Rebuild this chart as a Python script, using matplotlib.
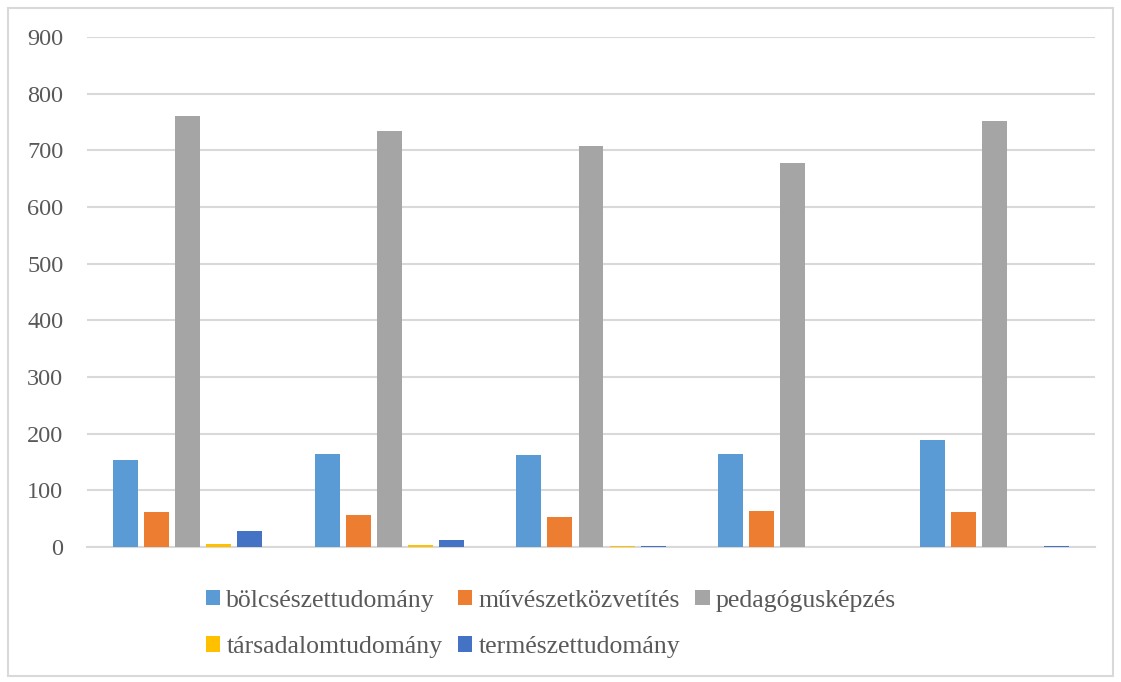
import matplotlib
matplotlib.use("Agg")
import matplotlib.pyplot as plt
import numpy as np
from matplotlib.patches import Rectangle

# Data (x-axis has no category labels)
categories = ["", "", "", "", ""]
series_names = ["bölcsészettudomány", "művészetközvetítés", "pedagógusképzés",
                "társadalomtudomány", "természettudomány"]
bolcs = [154, 164, 162, 165, 188]
muvesz = [61, 56, 53, 63, 61]
pedag = [761, 734, 708, 678, 752]
tarsad = [6, 3, 1, 0, 0]
termesz = [29, 12, 2, 0, 1]
yticks = [0, 100, 200, 300, 400, 500, 600, 700, 800, 900]

colors = ["#5B9BD5", "#ED7D31", "#A5A5A5", "#FFC000", "#4472C4"]
values = [bolcs, muvesz, pedag, tarsad, termesz]

plt.rcParams['font.family'] = ['Liberation Serif', 'DejaVu Serif']

fig = plt.figure(figsize=(11.21, 6.82), dpi=100)
ax = fig.add_axes([87/1121, 1-547/682, (1095-87)/1121, (547-37)/682])

x = np.arange(len(categories))
step = 0.154
width = 0.124
handles = []
for i, (vals, col, name) in enumerate(zip(values, colors, series_names)):
    h = ax.bar(x + (i - 2) * step, vals, width=width, color=col, label=name, zorder=3)
    handles.append(h)

ax.set_xlim(-0.5, len(categories) - 0.5)
ax.set_ylim(0, 900)
ax.set_yticks(yticks)
ax.set_xticks(x)
ax.set_xticklabels(categories)
ax.tick_params(axis='x', length=0)
ax.tick_params(axis='y', length=0, pad=17, labelsize=17.5, labelcolor="#595959")
ax.grid(axis='y', color="#D9D9D9", linewidth=1.5, zorder=0)
for s in ['top', 'right', 'left']:
    ax.spines[s].set_visible(False)
ax.spines['bottom'].set_color("#D9D9D9")
ax.spines['bottom'].set_linewidth(1.5)

order = [0, 3, 1, 4, 2]
leg = fig.legend([handles[k] for k in order], [series_names[k] for k in order],
                 ncol=3, loc='center', bbox_to_anchor=(551/1121, 1-624/682),
                 frameon=False, fontsize=18.5, handlelength=0.55, handleheight=0.55,
                 handletextpad=0.25, columnspacing=0.6, labelspacing=0.95)
for t in leg.get_texts():
    t.set_color("#595959")

fig.patches.append(Rectangle((8/1121, 6/682), (1113-8)/1121, (676-8)/682,
                             transform=fig.transFigure, fill=False,
                             edgecolor="#D9D9D9", linewidth=1.5))

fig.savefig("out.png", dpi=100)
